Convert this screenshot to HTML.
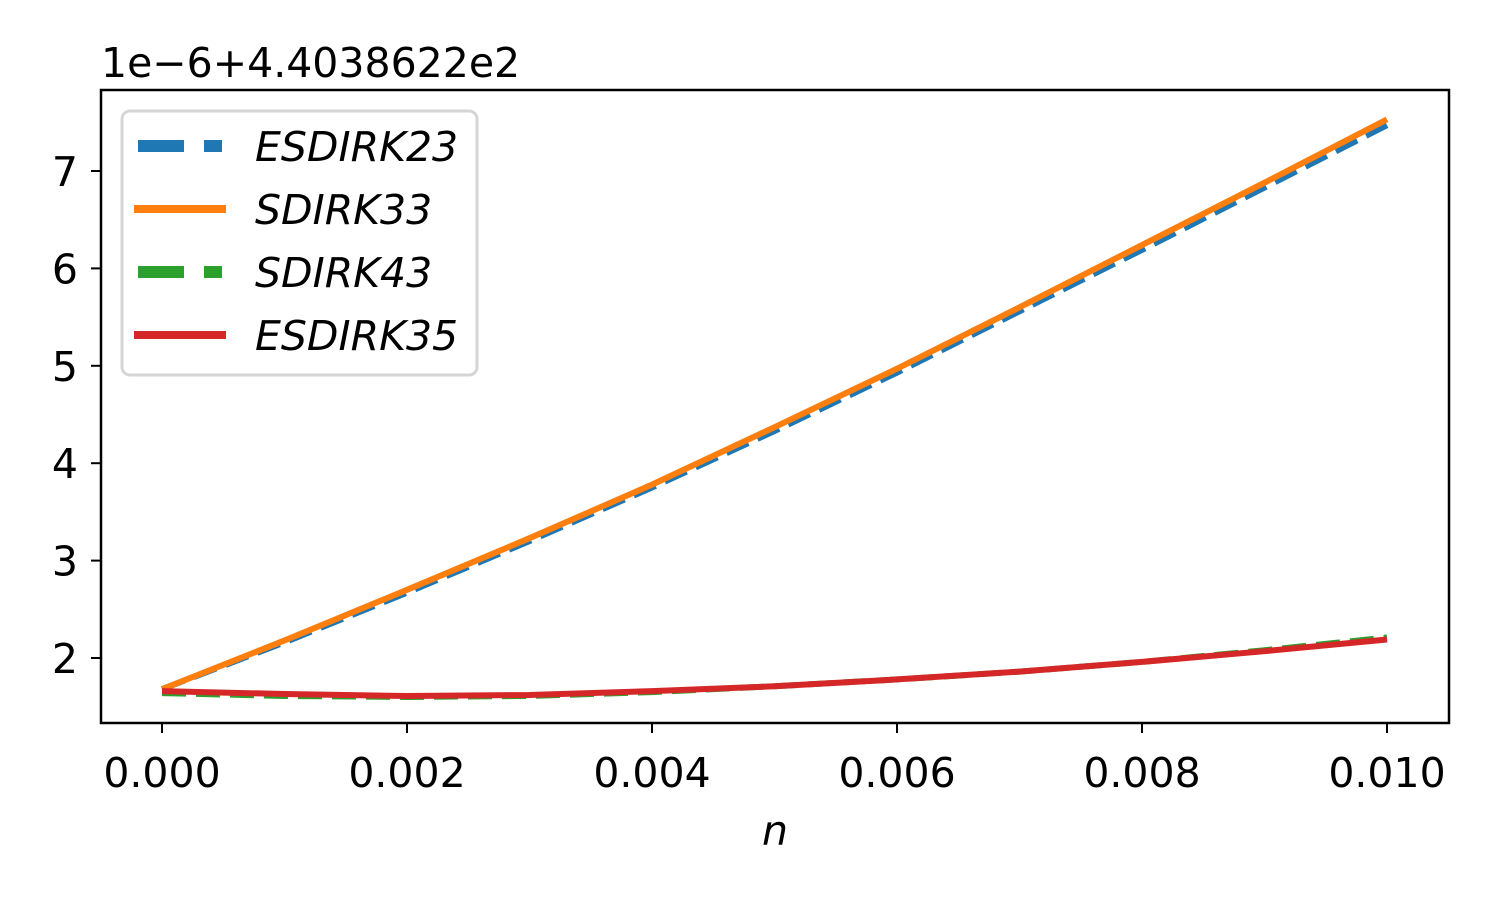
<!DOCTYPE html>
<html><head><meta charset="utf-8"><style>body{margin:0;background:#fff}svg text{font-family:"DejaVu Sans","Liberation Sans",sans-serif}</style></head>
<body>
<svg id="chart" width="1500" height="900" viewBox="0 0 1500 900" xmlns="http://www.w3.org/2000/svg">
<rect width="1500" height="900" fill="#fff"/>
<defs><clipPath id="clip"><rect x="101" y="90" width="1348" height="633"/></clipPath></defs>
<g id="lines" clip-path="url(#clip)"></g>
<rect x="101" y="90" width="1348" height="633" fill="none" stroke="#000" stroke-width="2.5"/>
<g id="ticks"></g>
<text x="101" y="77" font-size="41">1e−6+4.4038622e2</text>
<text x="775" y="845" font-size="41" font-style="italic" text-anchor="middle">n</text>
<g>
<rect x="122" y="111" width="355" height="264" rx="8" fill="#fff" fill-opacity="0.8" stroke="#d5d5d5" stroke-width="3"/>
<line x1="138" y1="146" x2="222" y2="146" stroke="#1f77b4" stroke-width="12" stroke-dasharray="46 20"/>
<line x1="134" y1="209" x2="226" y2="209" stroke="#ff7f0e" stroke-width="8"/>
<line x1="138" y1="272" x2="222" y2="272" stroke="#2ca02c" stroke-width="12" stroke-dasharray="46 20"/>
<line x1="134" y1="335" x2="226" y2="335" stroke="#d62728" stroke-width="8"/>
<text x="255" y="161" font-size="41" font-style="italic">ESDIRK23</text>
<text x="255" y="224" font-size="41" font-style="italic">SDIRK33</text>
<text x="255" y="287" font-size="41" font-style="italic">SDIRK43</text>
<text x="255" y="350" font-size="41" font-style="italic">ESDIRK35</text>
</g>
</svg>
<script>
const xs=[0,0.001,0.002,0.003,0.004,0.005,0.006,0.007,0.008,0.009,0.010];
const esdirk23=[1.68,2.16,2.67,3.2,3.75,4.33,4.93,5.56,6.19,6.83,7.47];
const sdirk33=[1.68,2.18,2.70,3.23,3.78,4.37,4.97,5.60,6.24,6.88,7.53];
const sdirk43=[1.64,1.61,1.60,1.61,1.65,1.71,1.78,1.86,1.96,2.08,2.21];
const esdirk35=[1.66,1.63,1.61,1.62,1.66,1.71,1.78,1.86,1.96,2.07,2.19];
const xticks=[0,0.002,0.004,0.006,0.008,0.010];
const xtickLabels=["0.000","0.002","0.004","0.006","0.008","0.010"];
const yticks=[2,3,4,5,6,7];
const X=v=>162+v*122500, Y=v=>658-(v-2)*97.4;
const NS="http://www.w3.org/2000/svg";
const lg=document.getElementById('lines'), tg=document.getElementById('ticks');
function line(data,color,w,dash,name){const p=document.createElementNS(NS,'polyline');
p.setAttribute('points',xs.map((x,i)=>X(x)+','+Y(data[i])).join(' '));
p.setAttribute('fill','none');p.setAttribute('stroke',color);p.setAttribute('stroke-width',w);
if(dash)p.setAttribute('stroke-dasharray',dash);


lg.appendChild(p);}
line(esdirk23,'#1f77b4',6,'24 10','line-esdirk23');
line(sdirk33,'#ff7f0e',6,null,'line-sdirk33');
line(sdirk43,'#2ca02c',6,'24 10','line-sdirk43');
line(esdirk35,'#d62728',6,null,'line-esdirk35');
xticks.forEach((v,i)=>{const l=document.createElementNS(NS,'line');
l.setAttribute('x1',X(v));l.setAttribute('x2',X(v));l.setAttribute('y1',723);l.setAttribute('y2',733);l.setAttribute('stroke','#000');l.setAttribute('stroke-width',2);


tg.appendChild(l);
const t=document.createElementNS(NS,'text');t.setAttribute('x',X(v));t.setAttribute('y',787);t.setAttribute('font-size',41);t.setAttribute('text-anchor','middle');t.textContent=xtickLabels[i];


tg.appendChild(t);});
yticks.forEach(v=>{const l=document.createElementNS(NS,'line');
l.setAttribute('x1',91);l.setAttribute('x2',101);l.setAttribute('y1',Y(v));l.setAttribute('y2',Y(v));l.setAttribute('stroke','#000');l.setAttribute('stroke-width',2);


tg.appendChild(l);
const t=document.createElementNS(NS,'text');t.setAttribute('x',78);t.setAttribute('y',Y(v)+15);t.setAttribute('font-size',41);t.setAttribute('text-anchor','end');t.textContent=v;


tg.appendChild(t);});
</script>
</body></html>
